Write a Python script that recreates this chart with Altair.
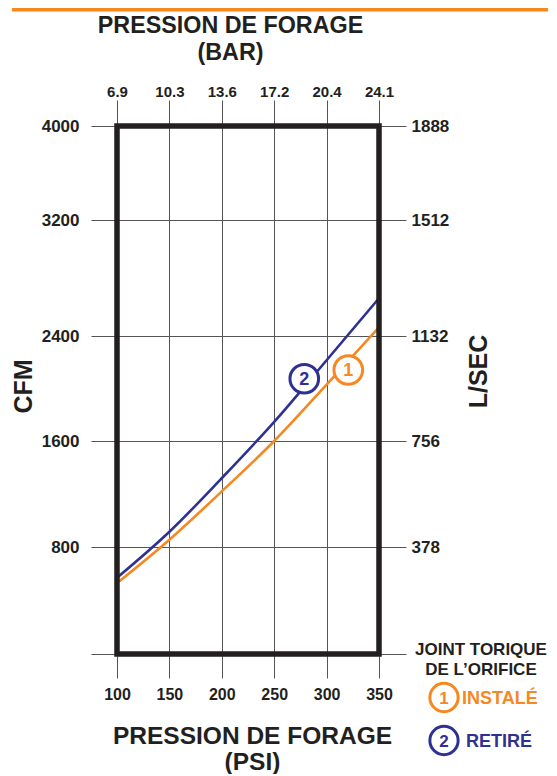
import json
import altair as alt
import pandas as pd

# ---------------- data ----------------
psi = [100, 150, 200, 250, 300, 350]
cfm_installe = [530, 855, 1220, 1600, 2030, 2460]   # 1  INSTALÉ
cfm_retire = [570, 915, 1320, 1746, 2215, 2661]     # 2  RETIRÉ
bar_labels = ["6.9", "10.3", "13.6", "17.2", "20.4", "24.1"]
cfm_ticks = [0, 800, 1600, 2400, 3200, 4000]
lsec_labels = ["", "378", "756", "1132", "1512", "1888"]
series_names = ["INSTALÉ", "RETIRÉ"]
series_nums = ["1", "2"]
marker_psi = [320.7, 278.7]
marker_cfm = [2141, 2074]
legend_title = ["JOINT TORIQUE", "DE L\u2019ORIFICE"]

# ---------------- style ----------------
ORANGE = "#F7881F"
BLUE = "#2E3192"
INK = "#231F20"
GRID = "#555555"
FONT = "Liberation Sans"
W, H = 262, 528
Y_RANGE = [528, 421, 315, 210, 94, 0]   # the drawn chart's irregular spacing

color_scale = alt.Scale(domain=series_names, range=[ORANGE, BLUE])
x_scale = alt.Scale(domain=[psi[0], psi[-1]], nice=False, zero=False)
y_scale = alt.Scale(domain=cfm_ticks, range=Y_RANGE, nice=False, zero=False)

lines_df = pd.DataFrame({
    "psi": psi * 2,
    "cfm": cfm_installe + cfm_retire,
    "series": [series_names[0]] * len(psi) + [series_names[1]] * len(psi),
})
frame_df = pd.DataFrame({"x0": [psi[0]], "x1": [psi[-1]], "y0": [cfm_ticks[0]], "y1": [cfm_ticks[-1]]})
marker_df = pd.DataFrame({"psi": marker_psi, "cfm": marker_cfm,
                          "series": series_names, "num": series_nums})

bottom_axis = alt.Axis(
    orient="bottom", values=psi, grid=True, gridColor=GRID, gridWidth=1,
    domain=False, tickSize=24, tickColor=GRID, tickWidth=1,
    labelFont=FONT, labelFontWeight="bold", labelFontSize=16, labelColor=INK,
    labelPadding=8, labelFlush=False, labelOverlap=False,
    title=["PRESSION DE FORAGE", "(PSI)"], titleFont=FONT, titleFontWeight="bold",
    titleFontSize=24.5, titleColor=INK, titleX=135, titleY=70, titleAlign="center",
    titleBaseline="top", titleLineHeight=26, titleAngle=0,
)
left_axis = alt.Axis(
    orient="left", values=cfm_ticks, grid=True, gridColor=GRID, gridWidth=1,
    domain=False, tickSize=26, tickColor=GRID, tickWidth=1, format="d",
    labelExpr="datum.value == 0 ? '' : datum.label",
    labelFont=FONT, labelFontWeight="bold", labelFontSize=17, labelColor=INK,
    labelPadding=12, labelFlush=False, labelOverlap=False,
    title="CFM", titleFont=FONT, titleFontWeight="bold", titleFontSize=25,
    titleColor=INK, titleAngle=270, titleX=-93.5, titleY=260,
    titleAlign="center", titleBaseline="middle",
)
top_axis = alt.Axis(
    orient="top", values=psi, grid=False, domain=False, tickSize=26,
    tickColor=GRID, tickWidth=1,
    labelExpr=f"{json.dumps(bar_labels)}[indexof({json.dumps(psi)}, datum.value)]",
    labelFont=FONT, labelFontWeight="bold", labelFontSize=15, labelColor=INK,
    labelPadding=1, labelFlush=False, labelOverlap=False,
    title=["PRESSION DE FORAGE", "(BAR)"], titleFont=FONT, titleFontWeight="bold",
    titleFontSize=23.3, titleColor=INK, titleX=113, titleY=-111.5,
    titleAlign="center", titleBaseline="top", titleLineHeight=27, titleAngle=0,
)
right_axis = alt.Axis(
    orient="right", values=cfm_ticks, grid=False, domain=False, tickSize=27,
    tickColor=GRID, tickWidth=1,
    labelExpr=f"{json.dumps(lsec_labels)}[indexof({json.dumps(cfm_ticks)}, datum.value)]",
    labelFont=FONT, labelFontWeight="bold", labelFontSize=17, labelColor=INK,
    labelPadding=5, labelFlush=False, labelOverlap=False,
    title="L/SEC", titleFont=FONT, titleFontWeight="bold", titleFontSize=25,
    titleColor=INK, titleAngle=270, titleX=99.5, titleY=245,
    titleAlign="center", titleBaseline="middle",
)

lines = alt.Chart(lines_df).mark_line(strokeWidth=2.6, interpolate="monotone").encode(
    x=alt.X("psi:Q", scale=x_scale, axis=bottom_axis),
    y=alt.Y("cfm:Q", scale=y_scale, axis=left_axis),
    color=alt.Color("series:N", scale=color_scale, legend=None),
    order=alt.Order("psi:Q"),
)

frame = alt.Chart(frame_df).mark_rect(fillOpacity=0, stroke=INK, strokeWidth=5.5).encode(
    x=alt.X("x0:Q", scale=x_scale, axis=top_axis),
    x2="x1:Q",
    y=alt.Y("y0:Q", scale=y_scale, axis=right_axis),
    y2="y1:Q",
)

markers = alt.Chart(marker_df).mark_point(
    shape="circle", filled=False, fill="white", fillOpacity=1, opacity=1,
    strokeWidth=3, size=820,
).encode(
    x=alt.X("psi:Q", scale=x_scale, axis=None),
    y=alt.Y("cfm:Q", scale=y_scale, axis=None),
    color=alt.Color("series:N", scale=color_scale, legend=None),
)
marker_text = alt.Chart(marker_df).mark_text(
    font=FONT, fontWeight="bold", fontSize=18, align="center", baseline="middle", dy=1,
).encode(
    x=alt.X("psi:Q", scale=x_scale, axis=None),
    y=alt.Y("cfm:Q", scale=y_scale, axis=None),
    text="num:N",
    color=alt.Color("series:N", scale=color_scale, legend=None),
)

one = pd.DataFrame({"k": [0]})
top_bar = alt.Chart(one).mark_rule(color=ORANGE, strokeWidth=4).encode(
    x=alt.value(-105), x2=alt.value(431), y=alt.value(-116.5)
)

legend_layers = []
for i, t in enumerate(legend_title):
    legend_layers.append(
        alt.Chart(pd.DataFrame({"t": [t]})).mark_text(
            font=FONT, fontWeight="bold", fontSize=17, color=INK,
            align="center", baseline="middle",
        ).encode(text="t:N", x=alt.value(364), y=alt.value(524 + 20 * i))
    )
legend_colors = [ORANGE, BLUE]
legend_y = [571.5, 614.5]
legend_text_x = [345, 349]
for i in range(2):
    d = pd.DataFrame({"num": [series_nums[i]], "name": [series_names[i]]})
    legend_layers.append(
        alt.Chart(d).mark_point(
            shape="circle", filled=False, fill="white", fillOpacity=1, opacity=1,
            stroke=legend_colors[i], strokeWidth=3, size=800,
        ).encode(x=alt.value(327), y=alt.value(legend_y[i]))
    )
    legend_layers.append(
        alt.Chart(d).mark_text(
            font=FONT, fontWeight="bold", fontSize=17, color=legend_colors[i],
            align="center", baseline="middle", dy=1,
        ).encode(text="num:N", x=alt.value(327), y=alt.value(legend_y[i]))
    )
    legend_layers.append(
        alt.Chart(d).mark_text(
            font=FONT, fontWeight="bold", fontSize=18, color=legend_colors[i],
            align="left", baseline="middle", dy=1,
        ).encode(text="name:N", x=alt.value(legend_text_x[i]), y=alt.value(legend_y[i]))
    )

chart = alt.layer(
    lines, frame, markers, marker_text, top_bar, *legend_layers
).resolve_axis(x="independent", y="independent").properties(
    width=W, height=H,
    autosize=alt.AutoSizeParams(type="none"),
    padding={"left": 109, "top": 118, "right": 169, "bottom": 120},
    background="white",
).configure_view(stroke=None)

chart.save("out.html", embed_options={"renderer": "svg", "actions": False})
